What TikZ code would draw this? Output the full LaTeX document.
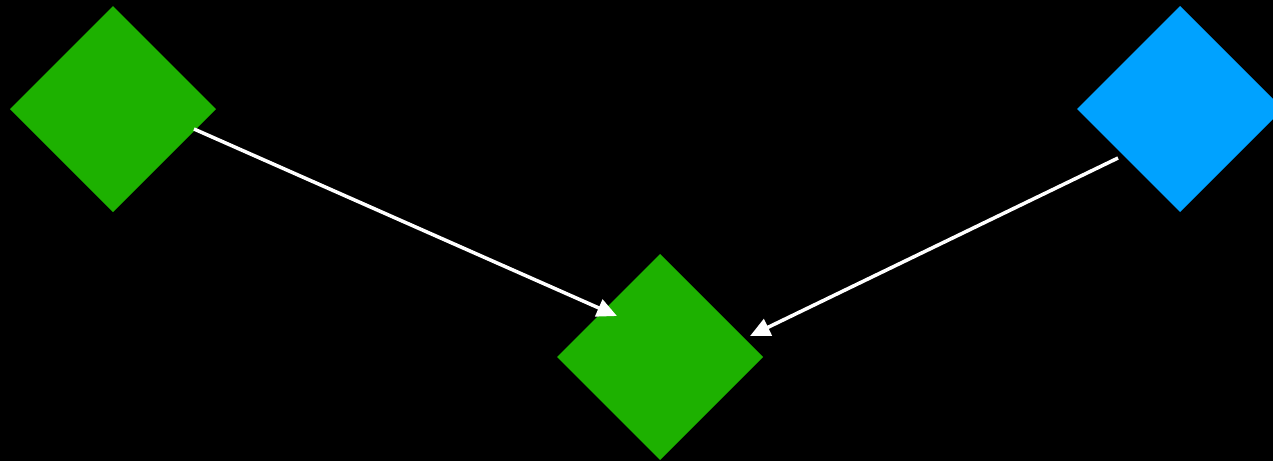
\documentclass[tikz,border=0pt]{standalone}
\usetikzlibrary{shapes.geometric,arrows.meta,calc}
\definecolor{leafgreen}{HTML}{1DB100}
\definecolor{skyblue}{HTML}{00A2FF}
\begin{document}
\begin{tikzpicture}[x=1pt,y=-1pt,
  gem/.style={shape=diamond,draw=none,minimum width=206pt,minimum height=206pt,inner sep=0pt,outer sep=0pt,aspect=1},
  link/.style={draw=white,line width=3.5pt,-{Triangle[length=20pt,width=18pt]}}]
  \fill[black] (0,0) rectangle (1273,461);
  \useasboundingbox (0,0) rectangle (1273,461);
  \node[gem,fill=leafgreen] (src) at (113,109) {};
  \node[gem,fill=leafgreen] (dst) at (660,357) {};
  \node[gem,fill=skyblue] (aux) at (1180,109) {};
  \draw[link] ($(src.center)+(81,20)$) -- ($(dst.center)+(-43,-41)$);
  \draw[link] ($(aux.center)+(-62,49)$) -- ($(dst.center)+(90,-21)$);
\end{tikzpicture}
\end{document}
